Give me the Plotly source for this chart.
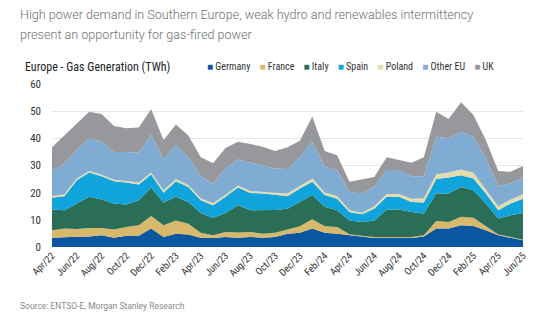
import plotly.graph_objects as go

months = ["Apr/22","May/22","Jun/22","Jul/22","Aug/22","Sep/22","Oct/22","Nov/22","Dec/22",
          "Jan/23","Feb/23","Mar/23","Apr/23","May/23","Jun/23","Jul/23","Aug/23","Sep/23","Oct/23","Nov/23","Dec/23",
          "Jan/24","Feb/24","Mar/24","Apr/24","May/24","Jun/24","Jul/24","Aug/24","Sep/24","Oct/24","Nov/24","Dec/24",
          "Jan/25","Feb/25","Mar/25","Apr/25","May/25","Jun/25"]
tick_labels = months[::2]

germany = [3.4,3.7,3.8,3.9,4.3,3.4,4.1,4.1,6.8,3.7,4.9,4.6,3.4,3.3,3.7,3.4,3.7,3.4,3.7,4.9,5.2,6.8,5.2,4.9,4.3,3.7,3.3,3.3,3.4,3.3,3.9,6.8,6.8,8.0,7.7,6.2,4.3,3.4,2.5]
france = [2.8,3.1,2.8,3.1,2.7,3.0,3.3,3.9,4.6,4.3,4.9,4.0,1.8,1.0,1.8,1.9,1.8,1.5,1.5,1.5,2.4,3.4,2.4,2.5,0.4,0.4,0.4,0.4,0.3,0.4,0.4,2.8,2.4,3.1,3.1,1.4,0.3,0.3,0.2]
italy = [7.6,6.7,9.4,11.5,10.5,9.6,8.2,9.2,10.5,8.4,8.7,8.0,7.3,6.5,7.0,10.1,8.0,8.6,8.4,7.7,9.0,8.9,7.2,6.1,5.1,5.1,6.1,10.1,10.1,9.2,8.0,10.1,10.5,11.0,10.1,8.4,5.9,8.0,9.8]
spain = [4.3,5.2,8.6,8.9,8.5,8.2,8.1,5.8,4.8,3.6,5.7,5.5,4.7,4.6,6.0,6.5,6.4,6.2,5.6,4.6,4.9,4.9,4.3,4.3,3.1,2.9,4.3,4.7,4.7,3.7,4.1,5.3,5.9,4.3,4.3,3.7,3.0,4.3,5.3]
poland = [0.6,0.7,0.6,0.6,0.6,0.6,0.6,0.7,0.7,0.9,0.8,0.7,0.7,0.7,0.7,0.7,0.7,0.7,0.8,1.0,0.9,1.2,1.0,1.0,0.6,0.5,0.9,1.0,1.0,1.2,1.5,1.8,1.8,2.1,2.1,1.5,1.5,1.5,1.6]
other_eu = [9.3,11.4,10.5,12.0,12.1,10.2,10.7,11.1,13.8,11.3,12.5,10.2,8.1,7.3,9.7,9.6,10.4,9.7,8.9,9.0,10.6,13.5,9.4,9.5,6.8,7.1,7.1,8.8,8.8,8.2,8.1,13.8,12.6,13.9,13.3,11.4,7.4,5.9,6.2]
uk = [8.7,10.3,9.8,9.8,10.3,9.5,8.7,9.2,9.5,7.2,7.6,8.0,7.0,7.4,7.5,6.5,6.9,6.8,6.4,8.0,6.1,9.3,5.8,5.5,3.7,5.1,3.7,4.7,3.7,5.0,7.0,9.2,7.1,10.9,8.0,6.8,5.6,4.3,4.2]

series_names = ["Germany","France","Italy","Spain","Poland","Other EU","UK"]
series_values = [germany, france, italy, spain, poland, other_eu, uk]
colors = ["#0b56a0","#d8b86a","#2b6e58","#10a3dc","#e3dcaa","#80acd3","#97989c"]

title_lines = ["High power demand in Southern Europe, weak hydro and renewables intermittency",
               "present an opportunity for gas-fired power"]

fig = go.Figure()
for name, vals, col in zip(series_names, series_values, colors):
    fig.add_trace(go.Scatter(
        x=months, y=vals, name=name, mode="lines", stackgroup="one",
        line=dict(width=0, color=col), fillcolor=col, showlegend=False,
        hoverinfo="x+y+name"))

narrow = "Roboto Condensed, Liberation Sans Narrow, Roboto, sans-serif"

legend_html = "&nbsp;&nbsp;&nbsp;&nbsp;".join(
    f"<span style='color:{c}'>■</span> {n}" for n, c in zip(series_names, colors))

def px_x(p):
    return (p - 52) / 471

def px_y(p):
    return (247 - p) / 163

annotations = []
for k, line in enumerate(title_lines):
    annotations.append(dict(
        text=line, xref="paper", yref="paper", x=px_x(18), y=px_y(14 + 21 * k),
        xanchor="left", yanchor="middle", showarrow=False,
        font=dict(family="Roboto, sans-serif", size=12.6, color="#707070", weight=300)))
annotations += [
    dict(text="Europe - Gas Generation (TWh)", xref="paper", yref="paper",
         x=px_x(23), y=px_y(67), xanchor="left", yanchor="middle",
         showarrow=False, font=dict(family=narrow, size=12, color="#222222")),
    dict(text=legend_html, xref="paper", yref="paper",
         x=px_x(205), y=px_y(66), xanchor="left", yanchor="middle",
         showarrow=False, font=dict(family=narrow, size=10, color="#333333")),
    dict(text="Source: ENTSO-E, Morgan Stanley Research", xref="paper", yref="paper",
         x=px_x(18), y=px_y(306), xanchor="left", yanchor="middle",
         showarrow=False, font=dict(family="Roboto, sans-serif", size=8.5, color="#8a8a8a")),
]

fig.update_layout(
    width=560, height=328,
    margin=dict(l=52, r=37, t=84, b=81),
    paper_bgcolor="white", plot_bgcolor="white",
    xaxis=dict(type="category", range=[0, len(months) - 1],
               tickmode="array", tickvals=tick_labels, ticktext=tick_labels,
               tickangle=-45, showgrid=False, zeroline=False, showline=False,
               ticks="", tickfont=dict(family=narrow, size=10, color="#333333")),
    yaxis=dict(range=[0, 60], dtick=10, showgrid=True, gridcolor="#e6e6e6",
               gridwidth=1, zeroline=False, ticks="", ticklabelstandoff=10,
               tickfont=dict(family=narrow, size=11, color="#333333")),
    annotations=annotations,
)

fig.write_html("out.html")
